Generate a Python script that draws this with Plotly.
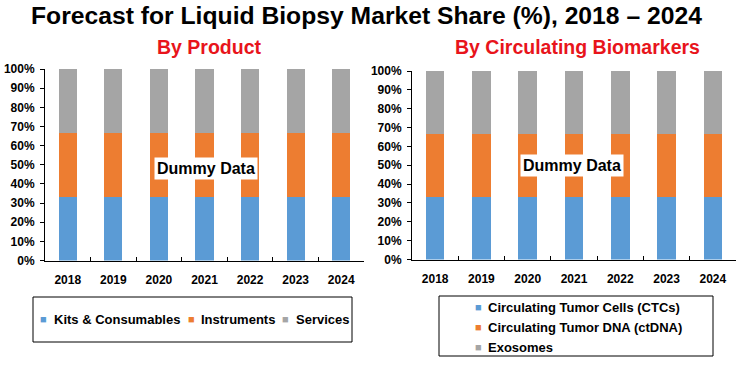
import plotly.graph_objects as go

years = ["2018", "2019", "2020", "2021", "2022", "2023", "2024"]
product_names = ["Kits & Consumables", "Instruments", "Services"]
kits = [33.3, 33.3, 33.3, 33.3, 33.3, 33.3, 33.3]
instruments = [33.3, 33.3, 33.3, 33.3, 33.3, 33.3, 33.3]
services = [33.4, 33.4, 33.4, 33.4, 33.4, 33.4, 33.4]
biomarker_names = ["Circulating Tumor Cells (CTCs)", "Circulating Tumor DNA (ctDNA)", "Exosomes"]
ctcs = [33.3, 33.3, 33.3, 33.3, 33.3, 33.3, 33.3]
ctdna = [33.3, 33.3, 33.3, 33.3, 33.3, 33.3, 33.3]
exosomes = [33.4, 33.4, 33.4, 33.4, 33.4, 33.4, 33.4]
y_ticks = list(range(0, 101, 10))
y_ticktext = [f"{v}%" for v in y_ticks]
colors = ["#5B9BD5", "#ED7D31", "#A5A5A5"]

W, H = 738, 371
FONT = "Arial, Liberation Sans, sans-serif"


def px(x):
    return x / W


def py(y):
    return 1 - y / H


fig = go.Figure()
for name, vals, c in zip(product_names, [kits, instruments, services], colors):
    fig.add_trace(go.Bar(x=years, y=vals, name=name, marker_color=c, marker_line_width=0,
                         xaxis="x", yaxis="y", showlegend=False))
for name, vals, c in zip(biomarker_names, [ctcs, ctdna, exosomes], colors):
    fig.add_trace(go.Bar(x=years, y=vals, name=name, marker_color=c, marker_line_width=0,
                         xaxis="x2", yaxis="y2", showlegend=False))

axfont = dict(family=FONT, size=12, color="black", weight="bold")
xcommon = dict(type="category", showgrid=False, showline=True, linecolor="black", linewidth=1,
               ticks="inside", tickson="boundaries", ticklen=4, tickcolor="black",
               tickfont=axfont, ticklabelstandoff=8, automargin=False, fixedrange=True)
ycommon = dict(range=[0, 100], tickvals=y_ticks, ticktext=y_ticktext, showgrid=False,
               zeroline=False, showline=True, linecolor="black", linewidth=1, ticks="outside",
               ticklen=4, tickcolor="black", tickfont=axfont, ticklabelstandoff=3,
               automargin=False, fixedrange=True)

annotations = [
    dict(text="Forecast for Liquid Biopsy Market Share (%), 2018 – 2024", x=px(366), y=py(16),
         font=dict(family=FONT, size=24.7, color="black", weight="bold")),
    dict(text="By Product", x=px(209), y=py(47),
         font=dict(family=FONT, size=19.5, color="#E8141B", weight="bold")),
    dict(text="By Circulating Biomarkers", x=px(577), y=py(47),
         font=dict(family=FONT, size=19.5, color="#E8141B", weight="bold")),
    dict(text="Dummy Data", x=px(206), y=py(168), bgcolor="white", borderpad=2,
         font=dict(family=FONT, size=16, color="black", weight="bold")),
    dict(text="Dummy Data", x=px(572), y=py(165), bgcolor="white", borderpad=2,
         font=dict(family=FONT, size=16, color="black", weight="bold")),
]
for a in annotations:
    a.update(xref="paper", yref="paper", showarrow=False, xanchor="center", yanchor="middle")

legfont = dict(family=FONT, size=13, color="black", weight="bold")
# legend of the left chart (one row)
left_items = [(43.5, 52), (191.5, 199), (285.5, 294)]
for (sx, tx), name, c in zip(left_items, product_names, colors):
    annotations.append(dict(text="■", x=px(sx), y=py(319), xref="paper", yref="paper", showarrow=False,
                            xanchor="center", yanchor="middle", font=dict(family=FONT, size=11, color=c)))
    annotations.append(dict(text=name, x=px(tx), y=py(319), xref="paper", yref="paper", showarrow=False,
                            xanchor="left", yanchor="middle", font=legfont))
# legend of the right chart (one column)
right_rows = [307, 327, 347]
for ry, name, c in zip(right_rows, biomarker_names, colors):
    annotations.append(dict(text="■", x=px(478.5), y=py(ry), xref="paper", yref="paper", showarrow=False,
                            xanchor="center", yanchor="middle", font=dict(family=FONT, size=11, color=c)))
    annotations.append(dict(text=name, x=px(486), y=py(ry), xref="paper", yref="paper", showarrow=False,
                            xanchor="left", yanchor="middle", font=legfont))

fig.update_layout(
    width=W, height=H, margin=dict(l=0, r=0, t=0, b=0, autoexpand=False),
    paper_bgcolor="white", plot_bgcolor="white",
    barmode="stack", bargap=0.6, showlegend=False,
    xaxis=dict(domain=[px(45), px(364)], anchor="y", **xcommon),
    yaxis=dict(domain=[py(260.5), py(69)], anchor="x", **ycommon),
    xaxis2=dict(domain=[px(412), px(736)], anchor="y2", **xcommon),
    yaxis2=dict(domain=[py(259.5), py(71)], anchor="x2", **ycommon),
    shapes=[
        dict(type="rect", xref="paper", yref="paper", x0=px(33), x1=px(352),
             y0=py(342), y1=py(297), line=dict(color="black", width=1)),
        dict(type="rect", xref="paper", yref="paper", x0=px(439), x1=px(713),
             y0=py(356), y1=py(296), line=dict(color="black", width=1)),
    ],
    annotations=annotations,
)

fig.write_html("out.html", config={"displayModeBar": False},
               post_script="document.body.style.margin='0';document.body.style.overflow='hidden';")
